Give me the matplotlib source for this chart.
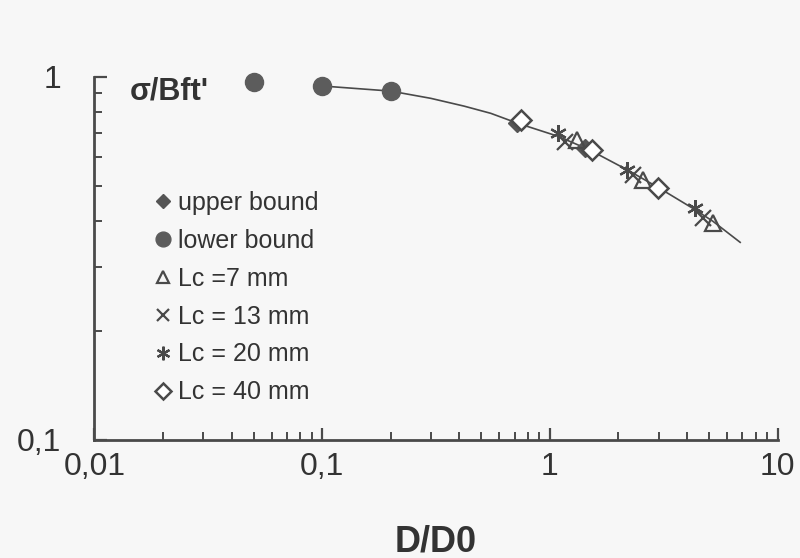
import matplotlib
matplotlib.use("Agg")
import matplotlib.pyplot as plt

plt.rcParams['font.family'] = ['Liberation Sans', 'DejaVu Sans']

# values (log-log axes)
lower_x = [0.05, 0.1, 0.2]
lower_y = [0.967, 0.943, 0.913]

upper_x = [0.72, 1.43]
upper_y = [0.745, 0.636]

lc7_x = [1.32, 2.56, 5.2]
lc7_y = [0.67, 0.52, 0.395]

lc13_x = [1.17, 2.32, 4.7]
lc13_y = [0.66, 0.536, 0.408]

lc20_x = [1.09, 2.18, 4.34]
lc20_y = [0.70, 0.553, 0.435]

lc40_x = [0.75, 1.53, 2.98]
lc40_y = [0.76, 0.628, 0.493]

curve_x = [0.1, 0.2, 0.3, 0.42, 0.55, 0.72, 1.09, 1.5, 2.2, 3.0, 4.3, 5.2, 6.85]
curve_y = [0.943, 0.913, 0.872, 0.83, 0.793, 0.745, 0.685, 0.628, 0.553, 0.495, 0.432, 0.40, 0.35]

xtick_vals = [0.01, 0.1, 1, 10]
xtick_labels = ['0,01', '0,1', '1', '10']
ytick_vals = [0.1, 1]
ytick_labels = ['0,1', '1']

ink = '#4a4a4a'

fig = plt.figure(figsize=(8, 5.58), dpi=100, facecolor='#f7f7f7')
ax = fig.add_axes([0.118, 0.2115, 0.854, 0.651])
ax.set_facecolor('none')

ax.plot(curve_x, curve_y, color=ink, lw=1.2, zorder=2)

h_up, = ax.plot(upper_x, upper_y, ls='none', marker='D', ms=9, color='#555555',
                mec='#555555', label='upper bound', zorder=3)
h_low, = ax.plot(lower_x, lower_y, ls='none', marker='o', ms=13, color='#5c5c5c',
                 mec='#5c5c5c', label='lower bound', zorder=3, clip_on=False)
h7, = ax.plot(lc7_x, lc7_y, ls='none', marker='^', ms=11, mfc='none', mec=ink,
              mew=1.6, label='Lc =7 mm', zorder=4)
h13, = ax.plot(lc13_x, lc13_y, ls='none', marker='x', ms=11, color=ink,
               mew=1.6, label='Lc = 13 mm', zorder=4)
h20, = ax.plot(lc20_x, lc20_y, ls='none', marker=(6, 2, 0), ms=12, color=ink,
               mew=1.6, label='Lc = 20 mm', zorder=4)
h40, = ax.plot(lc40_x, lc40_y, ls='none', marker='D', ms=10, mfc='white', mec=ink,
               mew=1.8, label='Lc = 40 mm', zorder=4)

ax.set_xscale('log')
ax.set_yscale('log')
ax.set_xlim(0.01, 10)
ax.set_ylim(0.1, 1)

ax.set_xticks(xtick_vals)
ax.set_xticklabels(xtick_labels)
ax.set_yticks(ytick_vals)
ax.set_yticklabels(ytick_labels)
ax.yaxis.set_minor_formatter(plt.NullFormatter())
ax.xaxis.set_minor_formatter(plt.NullFormatter())

ax.tick_params(which='major', direction='in', length=9, width=1.6, color=ink,
               labelsize=23, labelcolor='#333333')
ax.tick_params(which='minor', direction='in', length=6, width=1.4, color=ink)
ax.tick_params(axis='y', which='major', pad=24)
ax.tick_params(axis='x', which='major', pad=9)

for side in ['top', 'right']:
    ax.spines[side].set_visible(False)
for side in ['left', 'bottom']:
    ax.spines[side].set_linewidth(2)
    ax.spines[side].set_color(ink)

ax.set_xlabel('D/D0', fontsize=26, fontweight='bold', color='#333333', labelpad=30)
ax.text(0.052, 0.958, "σ/Bft'", transform=ax.transAxes, fontsize=22,
        fontweight='bold', color='#333333', ha='left', va='center')

ax.legend(handles=[h_up, h_low, h7, h13, h20, h40], loc='upper left',
          bbox_to_anchor=(0.068, 0.72), frameon=False, fontsize=18,
          markerscale=0.82, handlelength=0.8, handletextpad=0.2,
          labelspacing=0.555, borderpad=0, labelcolor='#333333')

fig.savefig('out.png', dpi=100, facecolor=fig.get_facecolor())
